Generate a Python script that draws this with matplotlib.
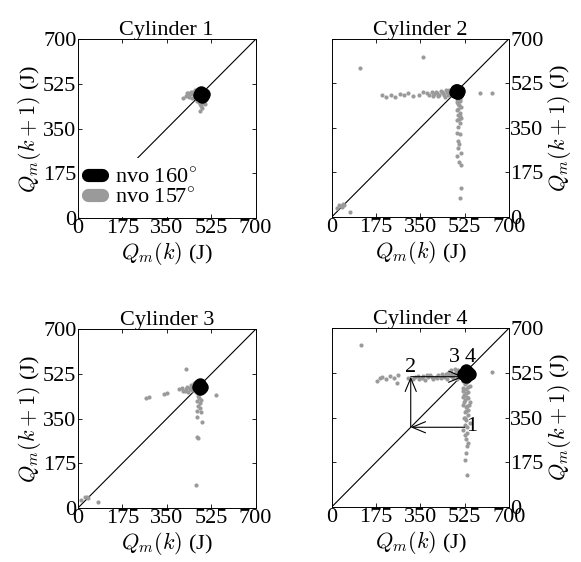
import matplotlib.pyplot as plt
from matplotlib.lines import Line2D

plt.rcParams['font.family'] = ['Liberation Serif', 'DejaVu Serif']
plt.rcParams['mathtext.fontset'] = 'cm'
plt.rcParams['font.size'] = 16

ticks = [0, 175, 350, 525, 700]
gray = '#9a9a9a'

# nvo 157 deg (gray) and nvo 160 deg (black) return maps
c1_gx = [415, 425, 432, 440, 445, 450, 455, 460, 462, 466, 470, 475, 478, 482, 486, 490, 480, 495, 488,
         428, 437, 452, 470, 485, 492, 500, 476]
c1_gy = [470, 478, 490, 484, 495, 472, 492, 480, 500, 470, 488, 465, 455, 448, 440, 452, 418, 460, 430,
         488, 476, 484, 458, 445, 455, 448, 462]
c1_bx = [478, 488, 496, 486, 482, 492]
c1_by = [482, 476, 486, 494, 490, 480]

c2_gx = [200, 215, 235, 250, 270, 285, 300, 320, 345, 360, 375, 385, 395, 405, 415, 420, 430, 440,
         445, 450, 455, 460, 465, 470, 475, 480, 485, 490, 400, 410, 425, 435, 448, 458, 468, 478,
         585, 633, 360, 113,
         495, 505, 498, 510, 493, 507, 500, 512, 496, 505, 500, 495, 508, 500, 504, 498, 510, 496, 502, 510, 511, 506,
         500, 508, 495, 503, 498, 506, 502,
         20, 30, 40, 45, 50, 38, 71]
c2_gy = [480, 472, 478, 470, 483, 478, 488, 475, 480, 490, 485, 478, 492, 482, 488, 475, 495, 485,
         480, 498, 490, 485, 500, 478, 495, 488, 482, 492, 475, 490, 480, 492, 472, 478, 488, 500,
         487, 485, 629, 585,
         465, 455, 445, 430, 420, 410, 400, 390, 380, 370, 355, 330, 325, 300, 285, 270, 250, 240, 215, 205, 114, 75,
         472, 462, 450, 438, 425, 395, 385,
         35, 45, 40, 50, 48, 42, 21]
c2_bx = [488, 496, 502, 494, 490, 500]
c2_by = [492, 486, 494, 500, 498, 488]

c3_gx = [270, 280, 340, 350, 427, 545,
         400, 410, 420, 430, 440, 445, 450, 455, 460, 465, 435, 452, 415, 425, 442, 458,
         472, 478, 470, 482, 475, 480, 470, 485, 468, 488, 470, 475, 465, 476, 484, 472,
         14, 27, 35, 38, 79]
c3_gy = [430, 435, 445, 450, 546, 442,
         465, 470, 460, 475, 468, 480, 462, 472, 485, 455, 455, 478, 458, 468, 472, 490,
         440, 430, 420, 410, 400, 390, 380, 375, 357, 337, 279, 274, 90, 448, 425, 450,
         31, 44, 44, 40, 25]
c3_bx = [472, 482, 490, 480, 476, 486]
c3_by = [474, 466, 474, 484, 482, 470]

c4_gx = [180, 190, 200, 215, 230, 245, 256, 260, 300, 320, 330, 345, 360, 370, 380, 390, 400, 410,
         420, 430, 440, 450, 455, 465, 475, 480, 490, 500, 505, 470, 485, 495,
         340, 355, 375, 395, 415, 435, 445, 460, 472, 488, 498, 510,
         117, 632,
         520, 535, 525, 545, 518, 530, 540, 522, 535, 528, 545, 520, 532, 540, 525, 538, 522, 530,
         545, 528, 520, 535, 525, 530, 540, 535, 530, 525, 535,
         528, 540, 520, 532, 538, 524, 536, 530, 518, 542, 526, 534]
c4_gy = [495, 505, 510, 500, 512, 505, 484, 515, 505, 500, 510, 502, 512, 498, 508, 515, 500, 510,
         518, 505, 512, 520, 500, 515, 522, 505, 528, 512, 530, 535, 540, 500,
         512, 505, 515, 508, 505, 522, 510, 525, 512, 522, 535, 518,
         633, 529,
         495, 490, 480, 475, 465, 460, 450, 440, 430, 420, 410, 400, 390, 380, 370, 360, 350, 340,
         330, 320, 300, 290, 280, 265, 250, 240, 211, 184, 125,
         485, 468, 455, 445, 425, 412, 395, 375, 430, 398, 350, 312]
c4_bx = [520, 545, 532, 532, 526, 538, 526, 538]
c4_by = [522, 522, 508, 536, 515, 529, 529, 515]

panels = [
    ('Cylinder 1', c1_gx, c1_gy, c1_bx, c1_by),
    ('Cylinder 2', c2_gx, c2_gy, c2_bx, c2_by),
    ('Cylinder 3', c3_gx, c3_gy, c3_bx, c3_by),
    ('Cylinder 4', c4_gx, c4_gy, c4_bx, c4_by),
]
positions = [
    [0.134, 0.612, 0.306, 0.318],
    [0.571, 0.614, 0.305, 0.317],
    [0.134, 0.096, 0.306, 0.318],
    [0.571, 0.098, 0.305, 0.318],
]

fig = plt.figure(figsize=(5.81, 5.62), dpi=100)
axes = []
for i, (title, gx, gy, bx, by) in enumerate(panels):
    ax = fig.add_axes(positions[i])
    ax.plot([0, 700], [0, 700], color='black', lw=0.8, zorder=1)
    ax.plot(gx, gy, 'o', color=gray, ms=3.0, mec='none', zorder=2)
    ax.plot(bx, by, 'o', color='black', ms=9, mec='none', zorder=3)
    ax.set_xlim(0, 700)
    ax.set_ylim(0, 700)
    ax.set_xticks(ticks)
    ax.set_yticks(ticks)
    ax.tick_params(direction='in', top=True, right=True, length=3, width=0.6, pad=1)
    ax.set_title(title, fontsize=16, pad=3)
    ax.set_xlabel(r'$Q_m(k)$ (J)', fontsize=16, labelpad=1)
    ax.set_ylabel(r'$Q_m(k+1)$ (J)', fontsize=16, labelpad=0)
    if i % 2 == 1:
        ax.yaxis.tick_right()
        ax.yaxis.set_label_position('right')
        ax.tick_params(direction='in', left=True, right=True, length=3, width=0.6, pad=1)
        ax.set_ylabel(r'$Q_m(k+1)$ (J)', fontsize=16, rotation=90, labelpad=2)
    for s in ax.spines.values():
        s.set_linewidth(0.7)
        s.set_zorder(6)
    axes.append(ax)

# legend on cylinder 1
handles = [Line2D([], [], color='black', lw=9.5, solid_capstyle='round'),
           Line2D([], [], color=gray, lw=9.5, solid_capstyle='round')]
leg = axes[0].legend(handles, ['nvo 160$^{\\circ}$', 'nvo 157$^{\\circ}$'], loc='lower left',
                     frameon=True, fancybox=False, edgecolor='none', facecolor='white', framealpha=1,
                     handlelength=0.65, handletextpad=0.55, borderpad=0.42, borderaxespad=0.03,
                     labelspacing=0.0, fontsize=16)
leg.set_zorder(5)

# transient path in cylinder 4
ax4 = axes[3]
arrow = dict(arrowstyle='->,head_length=0.6,head_width=0.25', color='black', lw=0.8,
             shrinkA=0, shrinkB=0)
ax4.annotate('', xy=(312, 312), xytext=(525, 312), arrowprops=arrow)
ax4.annotate('', xy=(312, 510), xytext=(312, 312), arrowprops=arrow)
ax4.annotate('', xy=(520, 510), xytext=(312, 510), arrowprops=arrow)
ax4.text(552, 314, '1', fontsize=16, va='center', ha='center')
ax4.text(310, 545, '2', fontsize=16, va='center', ha='center')
ax4.text(486, 585, '3', fontsize=16, va='center', ha='center')
ax4.text(546, 585, '4', fontsize=16, va='center', ha='center')

fig.savefig('out.png', dpi=100)
